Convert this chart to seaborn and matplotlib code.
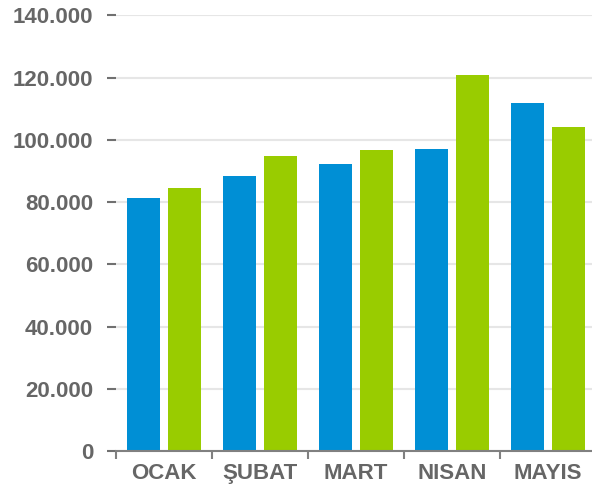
import pandas as pd
import matplotlib.pyplot as plt
import seaborn as sns

months = ['OCAK', 'ŞUBAT', 'MART', 'NISAN', 'MAYIS']
series_a = [81300, 88300, 92100, 97200, 112000]
series_b = [84400, 94800, 96600, 120900, 104000]
yticks = [0, 20000, 40000, 60000, 80000, 100000, 120000, 140000]
ytick_labels = ['0', '20.000', '40.000', '60.000', '80.000', '100.000', '120.000', '140.000']


def plot_months():
    df = pd.DataFrame({
        'ay': months * 2,
        'deger': series_a + series_b,
        'seri': ['A'] * len(months) + ['B'] * len(months),
    })

    sns.set_style('white')
    plt.rcParams['font.family'] = ['Liberation Sans', 'DejaVu Sans']

    fig = plt.figure(figsize=(5.92, 4.90), dpi=100)
    ax = fig.add_axes([0.196, 0.0796, 0.811, 0.889])

    sns.barplot(data=df, x='ay', y='deger', hue='seri',
                palette={'A': '#008fd5', 'B': '#99cc00'},
                width=0.86, gap=0.2, legend=False, ax=ax,
                edgecolor='none', saturation=1)

    ax.set_ylim(0, 140000)
    ax.set_xlim(-0.5, 4.5)
    ax.set_yticks(yticks)
    ax.set_yticklabels(ytick_labels)
    ax.yaxis.grid(True, color='#e6e6e6', linewidth=1.5)
    ax.set_axisbelow(True)

    for s in ['top', 'right', 'left']:
        ax.spines[s].set_visible(False)
    ax.spines['bottom'].set_color('#808080')
    ax.spines['bottom'].set_linewidth(1.5)

    ax.tick_params(axis='y', direction='out', length=6.5, width=1.5,
                   color='#707070', pad=10, labelsize=16,
                   labelcolor='#666666', left=True)
    for lbl in ax.get_yticklabels():
        lbl.set_fontweight('bold')

    ax.set_xticks(range(len(months)))
    ax.set_xticklabels(months)
    ax.set_xticks([i - 0.5 for i in range(len(months) + 1)], minor=True)
    ax.tick_params(axis='x', which='major', length=0, pad=9,
                   labelsize=16, labelcolor='#666666')
    ax.tick_params(axis='x', which='minor', direction='out', length=6,
                   width=1.5, color='#808080', bottom=True)
    for lbl in ax.get_xticklabels():
        lbl.set_fontweight('bold')

    ax.set_xlabel('')
    ax.set_ylabel('')
    fig.savefig('out.png', dpi=100)


if __name__ == "__main__":
    plot_months()
